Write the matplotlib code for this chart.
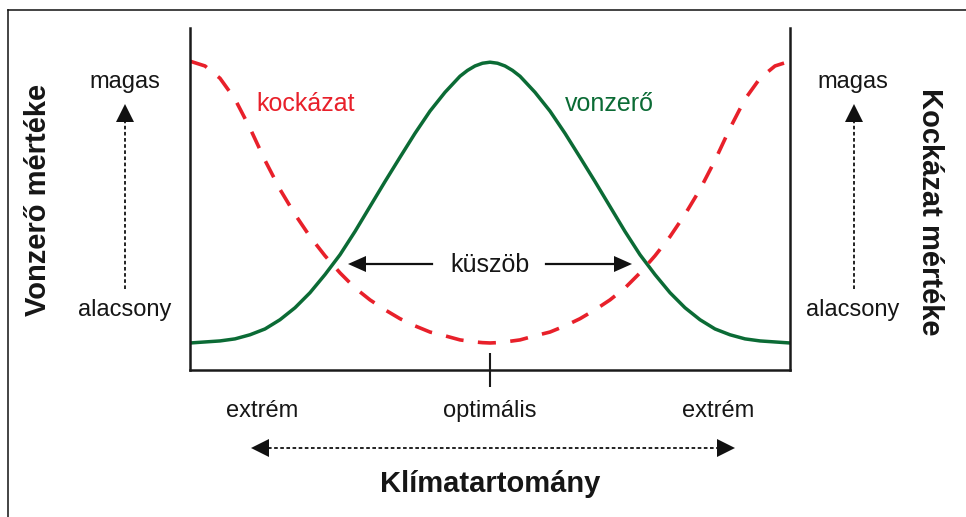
import matplotlib
matplotlib.use("Agg")
import matplotlib.pyplot as plt
from matplotlib.lines import Line2D
from matplotlib.patches import Polygon

plt.rcParams['font.family'] = ['Liberation Sans', 'DejaVu Sans']

W, H = 966, 517

# climate range position (0 = extreme, 5 = optimum, 10 = extreme)
x_pos = [0.0, 0.25, 0.5, 0.75, 1.0, 1.25, 1.5, 1.75, 2.0, 2.25, 2.5, 2.75, 3.0,
         3.25, 3.5, 3.75, 4.0, 4.25, 4.5, 4.625, 4.75, 4.875, 5.0,
         5.125, 5.25, 5.375, 5.5, 5.75, 6.0, 6.25, 6.5, 6.75, 7.0, 7.25, 7.5, 7.75, 8.0,
         8.25, 8.5, 8.75, 9.0, 9.25, 9.5, 9.75, 10.0]

# attraction (green)
vonzero = [7.9, 8.2, 8.5, 9.1, 10.3, 12.0, 14.7, 18.2, 22.6, 27.9, 33.7, 40.5, 47.8,
           55.1, 62.2, 69.2, 75.7, 81.2, 85.9, 87.6, 88.9, 89.7, 90.0,
           89.7, 88.9, 87.6, 85.9, 81.2, 75.7, 69.2, 62.2, 55.1, 47.8, 40.5, 33.7, 27.9, 22.6,
           18.2, 14.7, 12.0, 10.3, 9.1, 8.5, 8.2, 7.9]

# risk (red dashed)
kockazat = [90.3, 88.9, 85.3, 79.2, 70.7, 61.3, 52.8, 45.5, 39.0, 33.4, 28.4, 24.0, 20.5,
            17.6, 15.0, 12.9, 11.1, 10.0, 8.8, 8.5, 8.2, 8.0, 7.9,
            8.0, 8.2, 8.5, 8.8, 10.0, 11.1, 12.9, 15.0, 17.6, 20.5, 24.0, 28.4, 33.4, 39.0,
            45.5, 52.8, 61.3, 70.7, 79.2, 85.3, 88.9, 90.3]

x_ticks = [5.0]
x_labels = ['extrém', 'optimális', 'extrém']


def fx(px):
    return px / W


def fy(py):
    return 1 - py / H


fig = plt.figure(figsize=(W / 100, H / 100), dpi=100)
ax = fig.add_axes([fx(190), fy(370), fx(790) - fx(190), fy(28) - fy(370)])

ax.plot(x_pos, vonzero, color='#0b6b35', lw=2.5, solid_capstyle='butt',
        solid_joinstyle='round')
ax.plot(x_pos, kockazat, color='#e8202a', lw=2.6, dashes=(5.0, 4.0))

ax.set_xlim(0, 10)
ax.set_ylim(0, 100)
ax.spines['top'].set_visible(False)
for s in ['left', 'right', 'bottom']:
    ax.spines[s].set_linewidth(1.8)
    ax.spines[s].set_color('#1a1a1a')
ax.set_xticks(x_ticks)
ax.set_xticklabels([])
ax.tick_params(axis='x', direction='inout', length=24, width=1.5, color='#1a1a1a')
ax.set_yticks([])

txt = '#161616'
ax.text(fx(306), fy(104), 'kockázat', transform=fig.transFigure, ha='center', va='center',
        fontsize=18, color='#e8202a')
ax.text(fx(609), fy(104), 'vonzerő', transform=fig.transFigure, ha='center', va='center',
        fontsize=18, color='#0b6b35')
ax.text(fx(490), fy(265), 'küszöb', transform=fig.transFigure, ha='center', va='center',
        fontsize=18, color=txt)

# x-axis labels
for px, lab in zip([262, 490, 718], x_labels):
    fig.text(fx(px), fy(411), lab, ha='center', va='center', fontsize=17, color=txt)
fig.text(fx(490), fy(484), 'Klímatartomány', ha='center', va='center', fontsize=21,
         fontweight='bold', color=txt)

# side labels
fig.text(fx(38), fy(200), 'Vonzerő mértéke', ha='center', va='center', rotation=90,
         fontsize=21, fontweight='bold', color=txt)
fig.text(fx(930), fy(212), 'Kockázat mértéke', ha='center', va='center', rotation=-90,
         fontsize=21, fontweight='bold', color=txt)
for cx in [125, 853]:
    fig.text(fx(cx), fy(82), 'magas', ha='center', va='center', fontsize=17, color=txt)
    fig.text(fx(cx), fy(310), 'alacsony', ha='center', va='center', fontsize=17, color=txt)


def head(tip, direction, length=18, width=18):
    tx, ty = tip
    dx, dy = direction
    bx, by = tx - dx * length, ty - dy * length
    nx, ny = -dy, dx
    pts = [(tx, ty), (bx + nx * width / 2, by + ny * width / 2),
           (bx - nx * width / 2, by - ny * width / 2)]
    fig.add_artist(Polygon([(fx(p[0]), fy(p[1])) for p in pts], closed=True,
                           transform=fig.transFigure, color='#111111', lw=0))


def line(p0, p1, dotted=False, lw=1.3):
    kw = dict(dashes=(2.0, 1.4)) if dotted else {}
    fig.add_artist(Line2D([fx(p0[0]), fx(p1[0])], [fy(p0[1]), fy(p1[1])],
                          transform=fig.transFigure, color='#111111', lw=lw, **kw))


# vertical dotted arrows
for cx in [125, 854]:
    line((cx, 289), (cx, 120), dotted=True)
    head((cx, 104), (0, -1))

# horizontal dotted double arrow
line((268, 448), (718, 448), dotted=True)
head((251, 448), (-1, 0))
head((735, 448), (1, 0))

# threshold arrows
line((432, 264), (362, 264), lw=1.6)
head((348, 264), (-1, 0), length=18, width=16)
line((546, 264), (618, 264), lw=1.6)
head((632, 264), (1, 0), length=18, width=16)

# outer frame (partially cropped)
line((7.5, 10), (7.5, 517), lw=1.1)
line((7.5, 10), (966, 10), lw=1.1)

fig.savefig('out.png', dpi=100)
